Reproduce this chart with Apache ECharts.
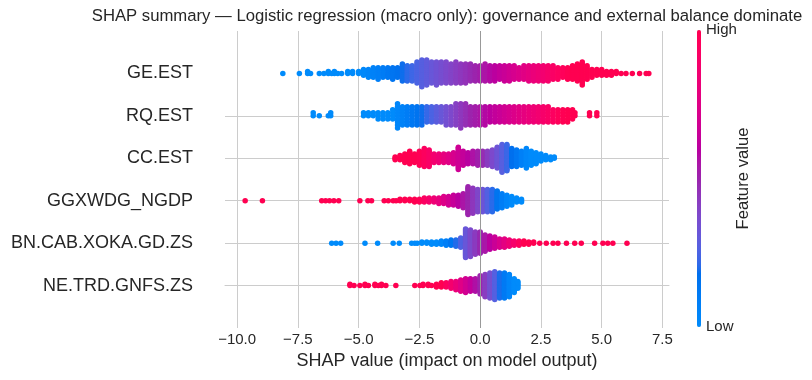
<!DOCTYPE html>
<html><head><meta charset="utf-8">
<script src="https://cdn.jsdelivr.net/npm/echarts@6/dist/echarts.min.js"></script>
<style>html,body{margin:0;padding:0;background:#fff}#c{width:812px;height:380px}</style>
</head><body><div id="c"></div>
<script>
// Features, listed bottom -> top
const featureNames = ['NE.TRD.GNFS.ZS','BN.CAB.XOKA.GD.ZS','GGXWDG_NGDP','CC.EST','RQ.EST','GE.EST'];
const xTickValues = [-10,-7.5,-5,-2.5,0,2.5,5,7.5];

const geEst = [[-8.12,1],[-7.44,1],[-7.1,2],[-6.98,1],[-6.62,1],[-6.43,1],[-6.25,2],[-6.11,1],[-6.0,2],[-5.86,1],[-5.7,1],[-5.45,2],[-5.25,2],
 [-5.0,2],[-4.8,4],[-4.6,5],[-4.4,6],[-4.2,7],[-4.0,6],[-3.8,6],[-3.6,7],[-3.4,6],[-3.2,10],[-3.0,9],[-2.8,9],[-2.6,12],[-2.4,15],[-2.2,14],[-2.0,12],[-1.8,13],[-1.6,12],[-1.4,12],[-1.2,11],[-1.0,12],[-0.8,11],[-0.6,11],[-0.4,10],[-0.2,9],[0,9],[0.2,10],[0.4,9],[0.6,9],[0.8,8],[1.0,9],[1.2,9],[1.4,8],[1.6,7],[1.8,8],[2.0,9],[2.2,9],[2.4,9],[2.6,9],[2.8,9],[3.0,8],[3.2,7],[3.4,6],[3.6,7],[3.8,8],[4.0,10],[4.2,13],[4.4,8],[4.6,5],[4.8,4],[5.0,4],[5.2,3],[5.4,3],[5.6,2],[5.8,1],
 [6.0,1],[6.26,1],[6.56,1],[6.83,1],[6.94,1]];
const rqEst = [[-6.87,2],[-6.62,1],[-6.25,1],[-6.15,2],
 [-4.8,2],[-4.6,2],[-4.4,2],[-4.2,3],[-4.0,3],[-3.8,3],[-3.6,4],[-3.4,9],[-3.2,7],[-3.0,7],[-2.8,7],[-2.6,7],[-2.4,7],[-2.2,6],[-2.0,6],[-1.8,6],[-1.6,6],[-1.4,7],[-1.2,7],[-1.0,8],[-0.8,9],[-0.6,8],[-0.4,7],[-0.2,7],[0,7],[0.2,7],[0.4,6],[0.6,6],[0.8,6],[1.0,6],[1.2,6],[1.4,6],[1.6,6],[1.8,6],[2.0,6],[2.2,6],[2.4,6],[2.6,6],[2.8,6],[3.0,5],[3.2,5],[3.4,5],[3.6,5],[3.8,4],[3.9,2],
 [4.5,2],[4.8,2]];
const ccEst = [[-3.5,3],[-3.3,4],[-3.1,7],[-2.9,10],[-2.7,7],[-2.5,11],[-2.3,14],[-2.1,13],[-1.9,7],[-1.7,7],[-1.5,7],[-1.3,7],[-1.1,9],[-0.9,17],[-0.7,11],[-0.5,9],[-0.3,10],[-0.1,11],[0.1,11],[0.3,11],[0.5,13],[0.7,16],[0.9,21],[1.1,20],[1.3,14],[1.5,13],[1.7,11],[1.9,15],[2.1,11],[2.3,9],[2.5,6],[2.7,4],[2.9,3],[3.05,2]];
const ggxwdgNgdp = [[-9.67,1],[-8.96,1],[-6.52,1],[-6.36,1],[-6.2,1],[-6.02,1],[-5.82,1],[-4.95,1],[-4.62,1],[-4.47,1],[-3.95,1],[-3.78,1],[-3.58,1],[-3.46,1],
 [-3.3,2],[-3.1,2],[-2.9,2],[-2.7,3],[-2.5,3],[-2.3,4],[-2.1,4],[-1.9,4],[-1.7,5],[-1.5,6],[-1.3,7],[-1.1,8],[-0.9,9],[-0.7,11],[-0.5,21],[-0.3,19],[-0.1,17],[0.1,17],[0.3,17],[0.5,17],[0.7,14],[0.9,11],[1.1,9],[1.3,7],[1.5,4],[1.7,3]];
const bnCabXokaGdZs = [[-6.11,1],[-5.93,1],[-5.74,1],[-4.74,1],[-4.22,1],[-3.58,1],[-3.33,1],[-2.82,1],[-2.69,1],[-2.59,1],
 [-2.4,2],[-2.2,2],[-2.0,3],[-1.8,3],[-1.6,4],[-1.4,5],[-1.2,6],[-1.0,7],[-0.8,10],[-0.6,29],[-0.4,27],[-0.2,23],[0,22],[0.2,17],[0.4,14],[0.6,12],[0.8,9],[1.0,9],[1.2,7],[1.4,5],[1.6,5],[1.8,4],[2.0,3],[2.2,2],
 [2.45,1],[2.72,1],[3.0,1],[3.2,1],[3.55,1],[3.89,1],[4.16,1],[4.71,1],[5.05,1],[5.25,1],[5.46,1],[6.04,1]];
const neTrdGnfsZs = [[-5.36,2],[-5.19,1],[-4.95,1],[-4.74,2],[-4.6,1],[-4.33,2],[-4.19,1],[-4.06,2],[-3.88,1],[-3.47,1],[-2.69,1],[-2.48,1],[-2.35,2],[-2.14,2],[-2.0,1],
 [-1.8,3],[-1.6,4],[-1.4,4],[-1.2,6],[-1.0,7],[-0.8,9],[-0.6,11],[-0.4,10],[-0.2,10],[0,14],[0.2,17],[0.4,19],[0.6,21],[0.8,19],[1.0,19],[1.2,17],[1.4,11],[1.55,6]];

// SHAP value where the feature colour is Low (blue), mid (purple) and High (red)
const colorStopsNeTrd = [1.3, 0.0, -1.6];
const colorStopsBnCab = [-1.7, 0.05, 1.8];
const colorStopsGgxwdg = [1.2, -0.5, -2.6];
const colorStopsCc = [2.0, 0.0, -2.6];
const colorStopsRq = [-3.6, -0.4, 3.5];
const colorStopsGe = [-5.0, -0.2, 3.7];

const rowPoints = [neTrdGnfsZs, bnCabXokaGdZs, ggxwdgNgdp, ccEst, rqEst, geEst];
const rowColorStops = [colorStopsNeTrd, colorStopsBnCab, colorStopsGgxwdg, colorStopsCc, colorStopsRq, colorStopsGe];

// SHAP red_blue colormap (LCH interpolation)
function lch2rgb(L, C, h) {
  const a = C * Math.cos(h), b = C * Math.sin(h);
  const fy = (L + 16) / 116, fx = fy + a / 500, fz = fy - b / 200;
  const finv = t => { const t3 = t * t * t; return t3 > 0.008856 ? t3 : (t - 16 / 116) / 7.787; };
  const X = 0.95047 * finv(fx), Y = finv(fy), Z = 1.08883 * finv(fz);
  const r = 3.2406 * X - 1.5372 * Y - 0.4986 * Z;
  const g = -0.9689 * X + 1.8758 * Y + 0.0415 * Z;
  const bl = 0.0557 * X - 0.2040 * Y + 1.0570 * Z;
  const gam = v => { v = v > 0.0031308 ? 1.055 * Math.pow(Math.max(v, 0), 1 / 2.4) - 0.055 : 12.92 * v; return Math.round(Math.min(1, Math.max(0, v)) * 255); };
  return 'rgb(' + gam(r) + ',' + gam(g) + ',' + gam(bl) + ')';
}
const cmap = [];
(function () {
  const n = 100, blue = [54, 70, 4.6588], red = [54, 90, 0.35470565 + 2 * Math.PI], lMid = 40;
  for (let i = 0; i < n; i++) {
    const L = i < n / 2 ? blue[0] + (lMid - blue[0]) * i / (n / 2 - 1) : lMid + (red[0] - lMid) * (i - n / 2) / (n / 2 - 1);
    const t = i / (n - 1);
    cmap.push(lch2rgb(L, blue[1] + (red[1] - blue[1]) * t, blue[2] + (red[2] - blue[2]) * t));
  }
})();

function colourValue(x, s) {
  let c;
  if ((x - s[1]) * (s[0] - s[1]) >= 0) c = 0.5 - 0.5 * (x - s[1]) / (s[0] - s[1]);
  else c = 0.5 + 0.5 * (x - s[1]) / (s[2] - s[1]);
  return Math.max(0, Math.min(1, c));
}

// beeswarm layout (as in shap: alternate layers around the row)
const swarm = [];
rowPoints.forEach((pts, r) => {
  let maxN = 1; pts.forEach(p => { if (p[1] > maxN) maxN = p[1]; });
  const lmax = Math.ceil((maxN - 1) / 2);
  const scale = 0.9 * 0.4 / (lmax + 1);
  const stops = rowColorStops[r];
  pts.forEach(p => {
    const c = colourValue(p[0], stops);
    for (let k = 0; k < p[1]; k++) {
      const off = Math.ceil(k / 2) * ((k % 2) * 2 - 1);
      swarm.push([p[0], r + off * scale, c]);
    }
  });
});

const FONT = '"Liberation Sans", Arial, sans-serif';
const chart = echarts.init(document.getElementById('c'));
chart.setOption({
  animation: false,
  textStyle: { fontFamily: FONT },
  title: {
    text: 'SHAP summary — Logistic regression (macro only): governance and external balance dominate',
    left: 447, top: 8, textAlign: 'center', padding: 0,
    textStyle: { fontSize: 16.7, fontWeight: 'normal', color: '#262626', fontFamily: FONT }
  },
  grid: { left: 225, right: 143, top: 31, bottom: 52 },
  xAxis: {
    type: 'value', min: -10.5, max: 7.77,
    name: 'SHAP value (impact on model output)', nameLocation: 'middle', nameGap: 23,
    nameTextStyle: { fontSize: 18, color: '#262626', fontFamily: FONT },
    axisLine: { show: true, lineStyle: { color: '#cccccc', width: 1 } },
    axisTick: { show: false, customValues: xTickValues },
    axisLabel: { customValues: xTickValues, fontSize: 15, color: '#262626', margin: 4,
      formatter: v => v.toFixed(1).replace('-', '\u2212') },
    splitLine: { show: true, lineStyle: { color: '#cccccc', width: 1 } }
  },
  yAxis: {
    type: 'value', min: -1, max: 6,
    axisLine: { show: false }, axisTick: { show: false, customValues: [0, 1, 2, 3, 4, 5] },
    axisLabel: { customValues: [0, 1, 2, 3, 4, 5], fontSize: 18, color: '#262626', margin: 32,
      formatter: v => featureNames[Math.round(v)] || '' },
    splitLine: { show: true, showMinLine: false, showMaxLine: false, lineStyle: { color: '#cccccc', width: 1 } }
  },
  visualMap: {
    type: 'continuous', min: 0, max: 1, dimension: 2, seriesIndex: 1, show: true,
    orient: 'vertical', left: 697, top: 30, itemWidth: 4, itemHeight: 297, padding: 0,
    calculable: false, hoverLink: false, inRange: { color: cmap }
  },
  graphic: [
    { type: 'text', left: 706, top: 22, style: { text: 'High', fontSize: 15, fill: '#262626', font: '15px ' + FONT } },
    { type: 'text', left: 706, top: 319, style: { text: 'Low', fontSize: 15, fill: '#262626', font: '15px ' + FONT } },
    { type: 'text', x: 743, y: 178.5, rotation: Math.PI / 2,
      style: { text: 'Feature value', font: '16.7px ' + FONT, fill: '#262626', align: 'center', verticalAlign: 'middle' } }
  ],
  series: [
    { type: 'scatter', data: [], z: 1, silent: true,
      markLine: { silent: true, symbol: 'none', label: { show: false },
        lineStyle: { color: '#999999', width: 1, type: 'solid' }, data: [{ xAxis: 0 }] } },
    { type: 'scatter', data: swarm, symbolSize: 5.5, z: 3, itemStyle: { opacity: 1 } }
  ]
});
</script></body></html>
